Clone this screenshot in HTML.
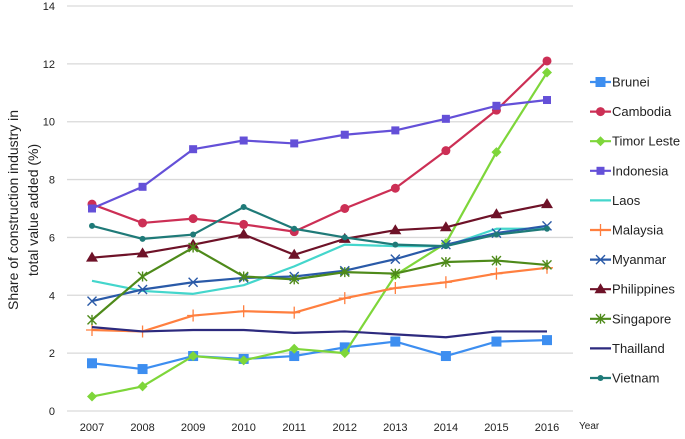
<!DOCTYPE html>
<html><head><meta charset="utf-8"><style>
body{margin:0;background:#fff;font-family:"Liberation Sans",sans-serif;}
svg text{font-family:"Liberation Sans",sans-serif;fill:#222;}
</style></head><body>
<svg id="chart" width="685" height="434" viewBox="0 0 685 434" xmlns="http://www.w3.org/2000/svg">
<g id="grid"></g>
<g id="yticks"></g>
<g id="xticks"></g>
<text transform="translate(18,210) rotate(-90)" text-anchor="middle" font-size="14">Share of construction industry in</text>
<text transform="translate(38,210) rotate(-90)" text-anchor="middle" font-size="14">total value added (%)</text>
<text x="579" y="429" font-size="10">Year</text>
<g id="series"></g>
<g id="legend"></g>
</svg>
<script>
const years = [2007,2008,2009,2010,2011,2012,2013,2014,2015,2016];
const yTicks = [0,2,4,6,8,10,12,14];
const countries = ["Brunei","Cambodia","Timor Leste","Indonesia","Laos","Malaysia","Myanmar","Philippines","Singapore","Thailland","Vietnam"];
const brunei = [1.65,1.45,1.9,1.8,1.9,2.2,2.4,1.9,2.4,2.45];
const cambodia = [7.15,6.5,6.65,6.45,6.2,7.0,7.7,9.0,10.4,12.1];
const timorLeste = [0.5,0.85,1.9,1.75,2.15,2.0,4.7,5.8,8.95,11.7];
const indonesia = [7.0,7.75,9.05,9.35,9.25,9.55,9.7,10.1,10.55,10.75];
const laos = [4.5,4.15,4.05,4.35,5.0,5.75,5.7,5.7,6.3,6.3];
const malaysia = [2.8,2.75,3.3,3.45,3.4,3.9,4.25,4.45,4.75,4.95];
const myanmar = [3.8,4.2,4.45,4.6,4.65,4.85,5.25,5.75,6.15,6.4];
const philippines = [5.3,5.45,5.75,6.1,5.4,5.95,6.25,6.35,6.8,7.15];
const singapore = [3.15,4.65,5.65,4.65,4.55,4.8,4.75,5.15,5.2,5.05];
const thailand = [2.9,2.75,2.8,2.8,2.7,2.75,2.65,2.55,2.75,2.75];
const vietnam = [6.4,5.95,6.1,7.05,6.3,6.0,5.75,5.7,6.1,6.3];

const seriesData = [brunei,cambodia,timorLeste,indonesia,laos,malaysia,myanmar,philippines,singapore,thailand,vietnam];
const colors = ["#3d8ef0","#cc2f55","#7ed63a","#6450d8","#44d6cc","#ff7f3f","#2a5aa8","#6e1228","#4e8a1a","#2d2a7e","#1f7a78"];
const markers = ["square","circle","diamond","square-s","none","plus","x","triangle","star","none","dot"];

const NS="http://www.w3.org/2000/svg";
const X0=92,X1=547,Y0=411,YTOP=6;
function xs(i){return X0+(X1-X0)*i/(years.length-1);}
function ys(v){return Y0-(Y0-YTOP)*v/14;}
function mk(tag,attrs,parent){const e=document.createElementNS(NS,tag);for(const k in attrs)e.setAttribute(k,attrs[k]);parent.appendChild(e);return e;}

const grid=document.getElementById('grid'),yt=document.getElementById('yticks'),xt=document.getElementById('xticks');
yTicks.forEach(v=>{
  const l=mk('line',{x1:67,x2:573,y1:ys(v),y2:ys(v),stroke:'#d9d9d9','stroke-width':1.3},grid);
  
  
  const t=mk('text',{x:55,y:ys(v)+4,'text-anchor':'end','font-size':11},yt);
  t.textContent=v;
  
  
});
years.forEach((y,i)=>{
  const t=mk('text',{x:xs(i),y:431,'text-anchor':'middle','font-size':11},xt);
  t.textContent=y;
  
  
});

function drawMarker(type,x,y,c,g){
  let e=null;
  if(type==='square') e=mk('rect',{x:x-5,y:y-5,width:10,height:10,fill:c},g);
  else if(type==='square-s') e=mk('rect',{x:x-4,y:y-4,width:8,height:8,fill:c},g);
  else if(type==='circle') e=mk('circle',{cx:x,cy:y,r:4.5,fill:c},g);
  else if(type==='dot') e=mk('circle',{cx:x,cy:y,r:3,fill:c},g);
  else if(type==='diamond') e=mk('path',{d:`M${x},${y-5}L${x+5},${y}L${x},${y+5}L${x-5},${y}Z`,fill:c},g);
  else if(type==='triangle') e=mk('path',{d:`M${x},${y-6}L${x+6},${y+4}L${x-6},${y+4}Z`,fill:c},g);
  else if(type==='plus') e=mk('path',{d:`M${x-6},${y}H${x+6}M${x},${y-6}V${y+6}`,stroke:c,'stroke-width':1.3,fill:'none'},g);
  else if(type==='x') e=mk('path',{d:`M${x-4.5},${y-4.5}L${x+4.5},${y+4.5}M${x-4.5},${y+4.5}L${x+4.5},${y-4.5}`,stroke:c,'stroke-width':1.4,fill:'none'},g);
  else if(type==='star') e=mk('path',{d:`M${x-4.5},${y-4.5}L${x+4.5},${y+4.5}M${x-4.5},${y+4.5}L${x+4.5},${y-4.5}M${x},${y-5}V${y+5}`,stroke:c,'stroke-width':1.4,fill:'none'},g);
  if(e){}
}

const sg=document.getElementById('series');
seriesData.forEach((vals,s)=>{
  const g=mk('g',{},sg);
  
  
  const pts=vals.map((v,i)=>xs(i)+','+ys(v)).join(' ');
  const pl=mk('polyline',{points:pts,fill:'none',stroke:colors[s],'stroke-width':2.2,'stroke-linejoin':'round'},g);
  
  
  vals.forEach((v,i)=>drawMarker(markers[s],xs(i),ys(v),colors[s],g));
});

const lg=document.getElementById('legend');
countries.forEach((n,s)=>{
  const y=82+s*29.6;
  const g=mk('g',{},lg);
  
  
  mk('line',{x1:590,x2:611,y1:y,y2:y,stroke:colors[s],'stroke-width':2.2},g);
  drawMarker(markers[s],600.5,y,colors[s],g);
  const t=mk('text',{x:612,y:y+4.5,'font-size':13},g);
  t.textContent=n;
});
</script>
</body></html>
